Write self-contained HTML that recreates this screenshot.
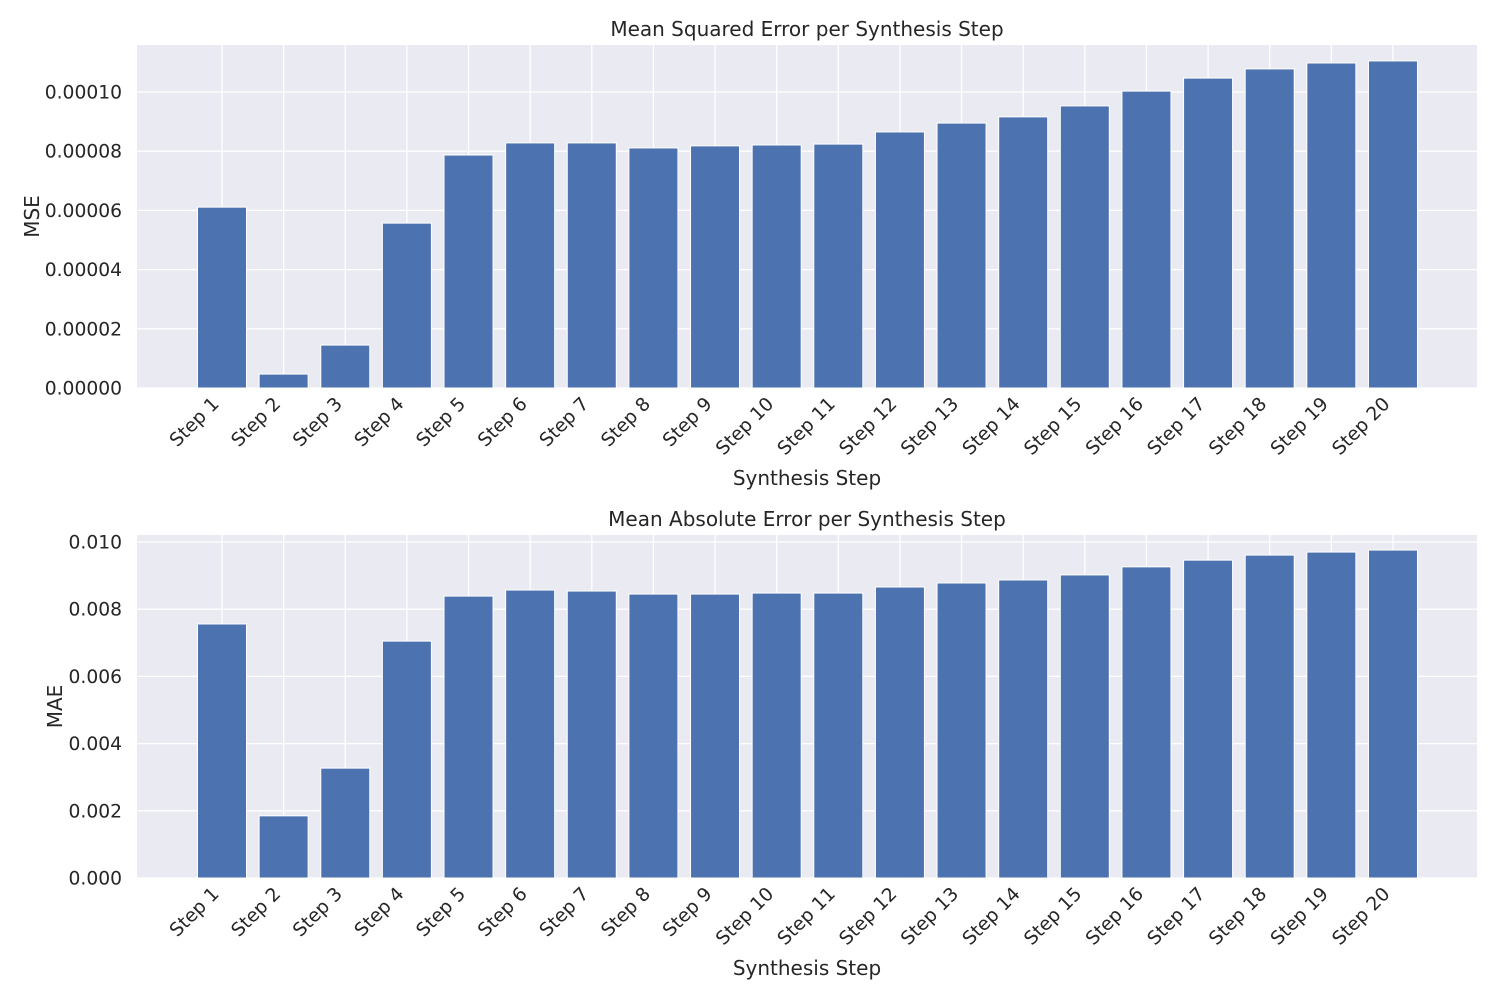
<!DOCTYPE html>
<html><head><meta charset="utf-8">
<style>
body{margin:0;background:#fff;}
svg{display:block;font-family:"DejaVu Sans","Liberation Sans",sans-serif;}
</style></head>
<body>
<svg id="chart" width="1500" height="1000" xmlns="http://www.w3.org/2000/svg"></svg>
<script>
const categories = ["Step 1","Step 2","Step 3","Step 4","Step 5","Step 6","Step 7","Step 8","Step 9","Step 10","Step 11","Step 12","Step 13","Step 14","Step 15","Step 16","Step 17","Step 18","Step 19","Step 20"];
const mseValues = [6.11e-5,0.47e-5,1.45e-5,5.57e-5,7.87e-5,8.28e-5,8.28e-5,8.11e-5,8.18e-5,8.21e-5,8.24e-5,8.65e-5,8.95e-5,9.16e-5,9.53e-5,10.03e-5,10.47e-5,10.78e-5,10.98e-5,11.05e-5];
const maeValues = [0.00756,0.00185,0.00327,0.00705,0.00839,0.00857,0.00854,0.00845,0.00845,0.00848,0.00848,0.00866,0.00878,0.00887,0.00902,0.00926,0.00946,0.00961,0.00970,0.00976];
const mseTicks = [0,0.00002,0.00004,0.00006,0.00008,0.00010];
const mseTickLabels = ["0.00000","0.00002","0.00004","0.00006","0.00008","0.00010"];
const maeTicks = [0,0.002,0.004,0.006,0.008,0.010];
const maeTickLabels = ["0.000","0.002","0.004","0.006","0.008","0.010"];

const NS="http://www.w3.org/2000/svg";
const svg=document.getElementById('chart');
function mk(tag,attrs,parent){const e=document.createElementNS(NS,tag);for(const k in attrs)e.setAttribute(k,attrs[k]);(parent||svg).appendChild(e);return e;}

function panel(cfg){
  const g=mk('g',{});
  
  
  const L=137,R=1477,T=cfg.top,B=cfg.bottom;
  const xs=i=>222+i*61.63;
  const ys=v=>cfg.zeroY-(v/cfg.refVal)*(cfg.zeroY-cfg.refY);
  const bg=mk('rect',{x:L,y:T,width:R-L,height:B-T,fill:'#EAEAF2'},g);
  
  
  categories.forEach((c,i)=>{mk('line',{x1:xs(i),x2:xs(i),y1:T,y2:B,stroke:'#fff','stroke-width':1.3},g);});
  cfg.ticks.forEach((t,i)=>{
    mk('line',{x1:L,x2:R,y1:ys(t),y2:ys(t),stroke:'#fff','stroke-width':1.3},g);
    const tx=mk('text',{x:122,y:ys(t)+6.5,'text-anchor':'end','font-size':18.7,fill:'#262626'},g);
    tx.textContent=cfg.tickLabels[i];
    
    
  });
  cfg.values.forEach((v,i)=>{
    const r=mk('rect',{x:xs(i)-24.5,y:ys(v),width:49,height:ys(0)-ys(v),fill:'#4C72B0',stroke:'#fff','stroke-width':1},g);
    
    
  });
  categories.forEach((c,i)=>{
    const x=xs(i)-2,y=B+17;
    const tx=mk('text',{x:x,y:y,'text-anchor':'end','font-size':18.7,fill:'#262626',transform:`rotate(-45 ${x} ${y})`},g);
    tx.textContent=c;
    
    
  });
  const ti=mk('text',{x:807,y:T-9,'text-anchor':'middle','font-size':20,fill:'#262626'},g);
  ti.textContent=cfg.title;
  
  
  const xl=mk('text',{x:807,y:B+97,'text-anchor':'middle','font-size':20,fill:'#262626'},g);
  xl.textContent='Synthesis Step';
  
  
  const yc=(T+B)/2;
  const yl=mk('text',{x:cfg.ylx,y:yc,'text-anchor':'middle','font-size':20,fill:'#262626',transform:`rotate(-90 ${cfg.ylx} ${yc})`},g);
  yl.textContent=cfg.ylabel;
  
  
}
panel({name:'mse-panel',top:45,bottom:388,zeroY:388,refY:92,refVal:0.0001,values:mseValues,ticks:mseTicks,tickLabels:mseTickLabels,title:'Mean Squared Error per Synthesis Step',ylabel:'MSE',ylx:39});
panel({name:'mae-panel',top:535,bottom:878,zeroY:878,refY:542,refVal:0.010,values:maeValues,ticks:maeTicks,tickLabels:maeTickLabels,title:'Mean Absolute Error per Synthesis Step',ylabel:'MAE',ylx:62});
</script>
</body></html>
